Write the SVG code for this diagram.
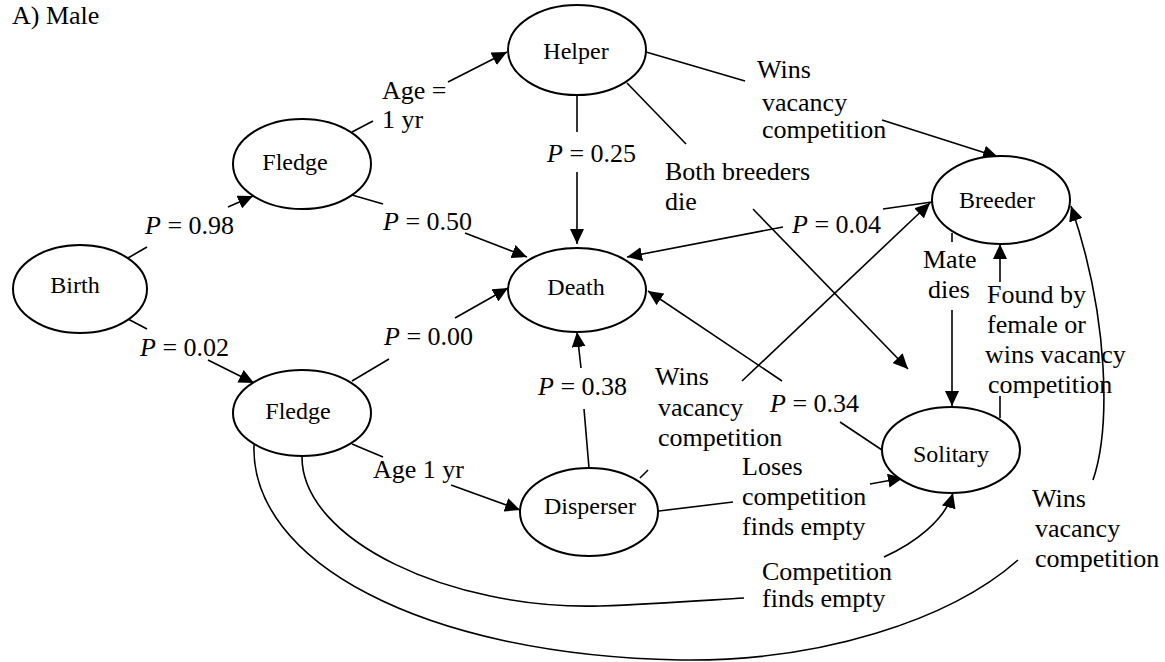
<svg xmlns="http://www.w3.org/2000/svg" width="1165" height="662" viewBox="0 0 1165 662">
<style>
text{font-family:"Liberation Serif","Times New Roman",serif;fill:#000}
.node ellipse{fill:#fff;stroke:#000;stroke-width:2}
.node text{font-size:24px;text-anchor:middle}
.lbl{font-size:26px}
.it{font-style:italic}
#edges line,#edges path{stroke:#000;stroke-width:1.6;fill:none}
.a{marker-end:url(#arr)}
</style>
<defs>
<marker id="arr" markerUnits="userSpaceOnUse" markerWidth="16" markerHeight="14" refX="15" refY="7" orient="auto">
<path d="M0,0 L15,7 L0,14 z" fill="#000"/>
</marker>
</defs>
<rect width="1165" height="662" fill="#fff"/>
<text class="lbl" x="12" y="24">A) Male</text>
<g id="edges">
<line x1="128" y1="258" x2="147" y2="247"/><line class="a" x1="228" y1="207" x2="253" y2="196"/>
<line x1="128" y1="319" x2="147" y2="329"/><line class="a" x1="208" y1="360" x2="254" y2="383"/>
<line x1="352" y1="132" x2="373" y2="121"/><line class="a" x1="448" y1="82" x2="507" y2="52"/>
<line x1="352" y1="195" x2="383" y2="204"/><line class="a" x1="465" y1="233" x2="527" y2="257"/>
<line x1="577" y1="95" x2="577" y2="132"/><line class="a" x1="577" y1="172" x2="577" y2="244"/>
<line x1="646" y1="52" x2="745" y2="81"/><line class="a" x1="882" y1="120" x2="998" y2="157"/>
<line x1="627" y1="83" x2="686" y2="144"/><line class="a" x1="753" y1="209" x2="908" y2="369"/>
<line x1="932" y1="202" x2="883" y2="209"/><line class="a" x1="783" y1="227" x2="627" y2="257"/>
<line x1="882" y1="450" x2="840" y2="422"/><line class="a" x1="782" y1="381" x2="648" y2="291"/>
<line x1="640" y1="478" x2="648" y2="470"/><line class="a" x1="742" y1="381" x2="930" y2="203"/>
<line x1="589" y1="468" x2="584" y2="409"/><line class="a" x1="581" y1="368" x2="577" y2="332"/>
<line x1="352" y1="381" x2="389" y2="359"/><line class="a" x1="455" y1="318" x2="508" y2="288"/>
<line x1="352" y1="444" x2="383" y2="457"/><line class="a" x1="451" y1="485" x2="520" y2="510"/>
<line x1="659" y1="511" x2="733" y2="502"/><line class="a" x1="870" y1="484" x2="903" y2="478"/>
<path d="M302,457 C302,540 450,610 600,606 C660,604 710,600 744,598"/>
<path class="a" d="M884,557 C915,543 945,520 953,493"/>
<path d="M254,445 C250,560 420,655 680,660 C820,662 950,620 1018,560"/>
<path class="a" d="M1093,480 C1110,430 1110,320 1071,206"/>
<line x1="952" y1="233" x2="952" y2="242"/><line class="a" x1="952" y1="310" x2="952" y2="406"/>
<line x1="1000" y1="418" x2="1000" y2="396"/><line class="a" x1="1000" y1="282" x2="1000" y2="244"/>
</g>
<g id="labels">
<text class="lbl" x="145" y="234"><tspan class="it">P</tspan> = 0.98</text>
<text class="lbl" x="140" y="356"><tspan class="it">P</tspan> = 0.02</text>
<text class="lbl" x="382" y="99">Age =</text>
<text class="lbl" x="382" y="128">1 yr</text>
<text class="lbl" x="383" y="230"><tspan class="it">P</tspan> = 0.50</text>
<text class="lbl" x="547" y="162"><tspan class="it">P</tspan> = 0.25</text>
<text class="lbl" x="665" y="180">Both breeders</text>
<text class="lbl" x="665" y="210">die</text>
<text class="lbl" x="757" y="78">Wins</text>
<text class="lbl" x="762" y="111">vacancy</text>
<text class="lbl" x="762" y="138">competition</text>
<text class="lbl" x="792" y="233"><tspan class="it">P</tspan> = 0.04</text>
<text class="lbl" x="384" y="345"><tspan class="it">P</tspan> = 0.00</text>
<text class="lbl" x="538" y="395"><tspan class="it">P</tspan> = 0.38</text>
<text class="lbl" x="655" y="385">Wins</text>
<text class="lbl" x="658" y="416">vacancy</text>
<text class="lbl" x="658" y="446">competition</text>
<text class="lbl" x="770" y="412"><tspan class="it">P</tspan> = 0.34</text>
<text class="lbl" x="923" y="268">Mate</text>
<text class="lbl" x="928" y="298">dies</text>
<text class="lbl" x="987" y="303">Found by</text>
<text class="lbl" x="987" y="333">female or</text>
<text class="lbl" x="985" y="363">wins vacancy</text>
<text class="lbl" x="988" y="393">competition</text>
<text class="lbl" x="373" y="478">Age 1 yr</text>
<text class="lbl" x="742" y="475">Loses</text>
<text class="lbl" x="742" y="505">competition</text>
<text class="lbl" x="742" y="535">finds empty</text>
<text class="lbl" x="762" y="580">Competition</text>
<text class="lbl" x="762" y="607">finds empty</text>
<text class="lbl" x="1032" y="507">Wins</text>
<text class="lbl" x="1035" y="537">vacancy</text>
<text class="lbl" x="1035" y="567">competition</text>
</g>
<g id="birth" class="node"><ellipse cx="80" cy="289" rx="67" ry="44"/><text x="75" y="293">Birth</text></g>
<g id="fledge1" class="node"><ellipse cx="302" cy="164" rx="69" ry="45"/><text x="295" y="170">Fledge</text></g>
<g id="fledge2" class="node"><ellipse cx="302" cy="413" rx="69" ry="43"/><text x="298" y="419">Fledge</text></g>
<g id="helper" class="node"><ellipse cx="577" cy="50" rx="69" ry="45"/><text x="576" y="59">Helper</text></g>
<g id="death" class="node"><ellipse cx="577" cy="290" rx="69" ry="42"/><text x="576" y="295">Death</text></g>
<g id="breeder" class="node"><ellipse cx="1001" cy="200" rx="69" ry="44"/><text x="997" y="208">Breeder</text></g>
<g id="solitary" class="node"><ellipse cx="951" cy="450" rx="69" ry="43"/><text x="951" y="462">Solitary</text></g>
<g id="disperser" class="node"><ellipse cx="589" cy="512" rx="69" ry="44"/><text x="590" y="514">Disperser</text></g>
</svg>
